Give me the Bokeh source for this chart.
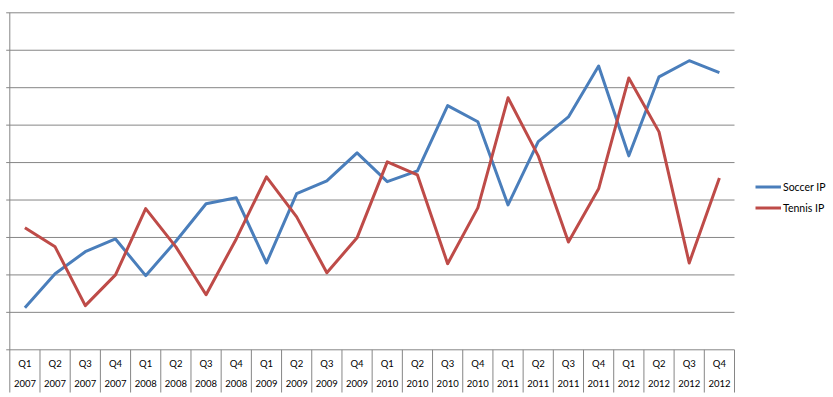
from bokeh.plotting import figure
from bokeh.models import Range1d, Legend, LegendItem
from bokeh.core.properties import value
from bokeh.embed import file_html
from bokeh.resources import INLINE

quarters = ["Q1", "Q2", "Q3", "Q4"] * 6
years = ["2007"] * 4 + ["2008"] * 4 + ["2009"] * 4 + ["2010"] * 4 + ["2011"] * 4 + ["2012"] * 4
soccer = [1.12, 2.03, 2.62, 2.96, 1.98, 2.9, 3.9, 4.06, 2.32, 4.17, 4.51, 5.26,
          4.49, 4.78, 6.52, 6.09, 3.87, 5.56, 6.22, 7.58, 5.18, 7.29, 7.72, 7.4]
tennis = [3.26, 2.75, 1.18, 2.0, 3.77, 2.75, 1.47, 2.96, 4.62, 3.55, 2.06, 2.99,
          5.02, 4.67, 2.3, 3.79, 6.73, 5.18, 2.88, 4.3, 7.26, 5.82, 2.32, 4.59]
y_ticks = [0, 1, 2, 3, 4, 5, 6, 7, 8, 9]
series_names = ["Soccer IP", "Tennis IP"]

BLUE = "#4A7EBB"
RED = "#BE4B48"
GRID = "#868686"
FONT = "Lato"

W, H = 833, 397
n = len(quarters)
idx = list(range(n))

# layout (pixels within the figure)
tick_px, axis_px, right_px = 5.7, 9.3, 734.0   # tick stub start / plot left / plot right
top_px, base_px, sep_px = 12.3, 349.3, 392.0   # y=9 line / y=0 line / separator bottom
ppu_x = (right_px - axis_px) / n
ppu_y = (base_px - top_px) / (y_ticks[-1] - y_ticks[0])
x0 = -0.5
x_start = x0 - axis_px / ppu_x
x_end = x0 + (W - axis_px) / ppu_x
x_tick = x0 - (axis_px - tick_px) / ppu_x
y_end = y_ticks[-1] + top_px / ppu_y
y_start = -(H - base_px) / ppu_y
y_sep = -(sep_px - base_px) / ppu_y

p = figure(width=W, height=H, output_backend="svg", toolbar_location=None,
           x_range=Range1d(x_start, x_end), y_range=Range1d(y_start, y_end),
           x_axis_location=None, y_axis_location=None,
           min_border_left=0, min_border_right=0, min_border_top=0, min_border_bottom=0)
p.outline_line_color = None
p.grid.visible = False
p.background_fill_color = "white"
p.border_fill_color = "white"

# horizontal gridlines (with small tick stubs to the left of the axis)
p.segment(x0=[x_tick] * len(y_ticks), y0=y_ticks, x1=[n - 0.5] * len(y_ticks), y1=y_ticks,
          line_color=GRID, line_width=1)

# vertical axis line + category separators below the baseline
bounds = [i - 0.5 for i in range(n + 1)]
p.segment(x0=[x0], y0=[y_sep], x1=[x0], y1=[y_ticks[-1]], line_color=GRID, line_width=1)
p.segment(x0=bounds[1:], y0=[0] * n, x1=bounds[1:], y1=[y_sep] * n,
          line_color=GRID, line_width=1)

# category labels
p.text(x=idx, y=[0] * n, text=quarters, y_offset=14, text_align="center",
       text_baseline="middle", text_font=value(FONT), text_font_size="9.5px", text_color="black")
p.text(x=idx, y=[0] * n, text=years, y_offset=34, text_align="center",
       text_baseline="middle", text_font=value(FONT), text_font_size="9.5px", text_color="black")

r1 = p.line(idx, soccer, line_color=BLUE, line_width=3, line_join="round")
r2 = p.line(idx, tennis, line_color=RED, line_width=3, line_join="round")

legend = Legend(items=[LegendItem(label=series_names[0], renderers=[r1]),
                       LegendItem(label=series_names[1], renderers=[r2])],
                location=(755, 179), margin=0, padding=0, spacing=0,
                glyph_width=26, glyph_height=21, label_height=21, label_standoff=2,
                border_line_color=None, background_fill_alpha=0,
                label_text_font=FONT, label_text_font_size="10.5px", label_text_color="black")
p.add_layout(legend, "center")

open("out.html", "w").write(file_html(p, INLINE))
